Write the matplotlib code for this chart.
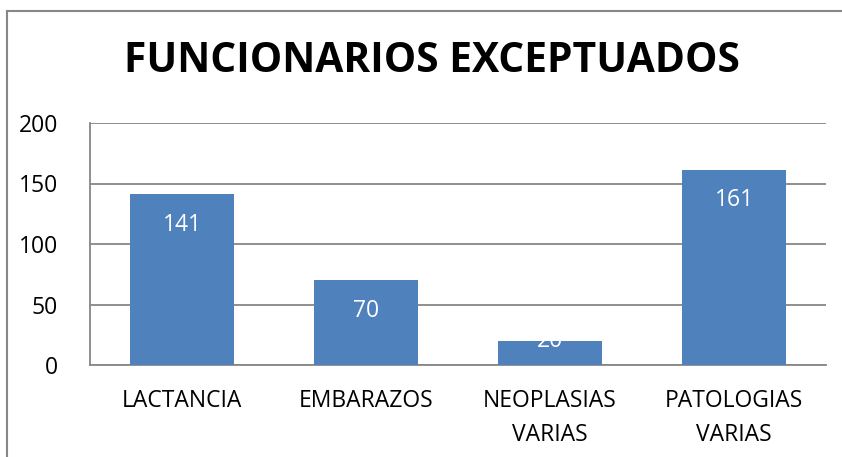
import matplotlib
matplotlib.use("Agg")
import matplotlib.pyplot as plt
from matplotlib.lines import Line2D

categorias = ["LACTANCIA", "EMBARAZOS", "NEOPLASIAS\nVARIAS", "PATOLOGIAS\nVARIAS"]
valores = [141, 70, 20, 161]
yticks = [0, 50, 100, 150, 200]

plt.rcParams['font.family'] = ['Open Sans', 'DejaVu Sans']

azul = "#4F81BD"
gris = "#878787"

fig = plt.figure(figsize=(8.42, 4.57), dpi=100)
ax = fig.add_axes([90/842, 1-365/457, 736/842, 242/457])

x = range(len(categorias))
barras = ax.bar(x, valores, width=0.565, color=azul, zorder=3)

# etiquetas dentro de la barra, arriba
for b, v in zip(barras, valores):
    xc = b.get_x() + b.get_width()/2
    y = v - 25 if v - 25 > 25 else v
    ax.text(xc, y, str(v), ha="center", va="center", color="white",
            fontsize=16.5, zorder=4)

ax.set_xlim(-0.5, len(categorias) - 0.5)
ax.set_ylim(0, 200)
ax.set_yticks(yticks)
ax.set_xticks(list(x))
ax.set_xticklabels(categorias, fontsize=16.5, linespacing=1.55)
ax.tick_params(axis="both", length=0, labelsize=16.5)
ax.tick_params(axis="x", pad=17)
ax.tick_params(axis="y", pad=23)
for lbl in ax.get_yticklabels():
    lbl.set_horizontalalignment("right")

ax.grid(axis="y", color=gris, linewidth=1.3, zorder=0)
for s in ["top", "right"]:
    ax.spines[s].set_visible(False)
for s in ["left", "bottom"]:
    ax.spines[s].set_color(gris)
    ax.spines[s].set_linewidth(1.3)

fig.text(432/842, 1-62/457, "FUNCIONARIOS EXCEPTUADOS", ha="center", va="center",
         fontsize=29.3, fontweight="bold")

# borde exterior del grafico (solo se ven el lado izquierdo y el de arriba)
bx, by = 7/842, 1-11/457
fig.add_artist(Line2D([bx, bx], [0, by], transform=fig.transFigure, color=gris, lw=1.5))
fig.add_artist(Line2D([bx, 1], [by, by], transform=fig.transFigure, color=gris, lw=1.5))

fig.savefig("out.png", dpi=100)
